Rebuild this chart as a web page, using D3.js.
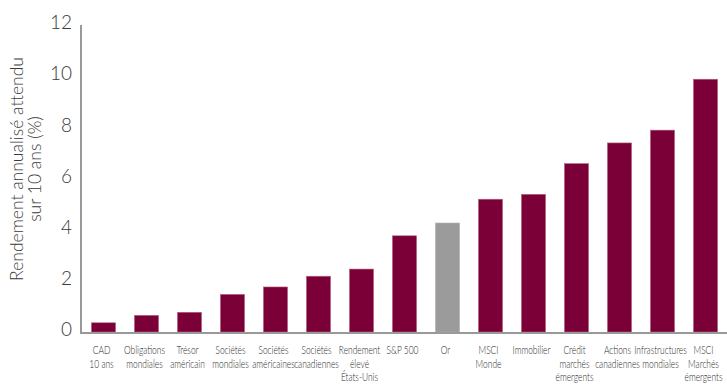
<!DOCTYPE html>
<html><head><meta charset="utf-8">
<script src="https://cdn.jsdelivr.net/npm/d3@7"></script>
<style>
html,body{margin:0;padding:0;background:#fff;}
svg{display:block;}
.tick text{font-family:Lato,"Open Sans",sans-serif;font-weight:300;}
</style>
</head><body>
<svg id="chart" width="727" height="387"></svg>
<script>
const categories = [
  ["CAD","10 ans"],
  ["Obligations","mondiales"],
  ["Trésor","américain"],
  ["Sociétés","mondiales"],
  ["Sociétés","américaines"],
  ["Sociétés","canadiennes"],
  ["Rendement","élevé","États-Unis"],
  ["S&P 500"],
  ["Or"],
  ["MSCI","Monde"],
  ["Immobilier"],
  ["Crédit","marchés","émergents"],
  ["Actions","canadiennes"],
  ["Infrastructures","mondiales"],
  ["MSCI","Marchés","émergents"]
];
const values = [0.36, 0.65, 0.77, 1.47, 1.76, 2.18, 2.46, 3.76, 4.26, 5.19, 5.38, 6.58, 7.39, 7.89, 9.88];
const highlighted = ["Or"];
const yTicks = [0, 2, 4, 6, 8, 10, 12];
const yTitle = ["Rendement annualisé attendu", "sur 10 ans (%)"];

const svg = d3.select("#chart");
const keys = categories.map(c => c.join(" "));
const x = d3.scaleBand().domain(keys).range([82, 727]).paddingInner(0.44).paddingOuter(0.22);
const y = d3.scaleLinear().domain([0, 12]).range([332, 25]);

// bars
svg.append("g").selectAll("rect").data(values).join("rect")
  .attr("x", (d, i) => x(keys[i]))
  .attr("width", x.bandwidth())
  .attr("y", d => y(d))
  .attr("height", d => y(0) - y(d))
  .attr("fill", (d, i) => highlighted.includes(keys[i]) ? "#9b9b9b" : "#7b0038")
  .attr("stroke", (d, i) => highlighted.includes(keys[i]) ? "#b0b0b0" : "#b2637f")
  .attr("stroke-width", 0.6);

// y axis
const yAxis = d3.axisLeft(y).tickValues(yTicks).tickSize(0).tickPadding(9).tickFormat(d3.format("d"));
const gy = svg.append("g").attr("transform", "translate(81,0)").call(yAxis);
gy.select(".domain").remove();
gy.selectAll(".tick text").attr("font-size", 19).attr("fill", "#3a3a3a").attr("dy", "0.2em");

// axis lines
svg.append("line").attr("x1", 81).attr("x2", 81).attr("y1", 25).attr("y2", 333)
  .attr("stroke", "#999").attr("stroke-width", 2);
svg.append("line").attr("x1", 80).attr("x2", 727).attr("y1", 333).attr("y2", 333)
  .attr("stroke", "#999").attr("stroke-width", 2);

// x labels (condensed by horizontal scaling), one text per line
const xl = svg.append("g");
categories.forEach((lines, i) => {
  const cx = x(keys[i]) + x.bandwidth() / 2 - 2;
  lines.forEach((l, j) => {
    xl.append("text")
      .attr("transform", `translate(${cx},${354 + j * 13.5}) scale(0.7,1)`)
      .attr("text-anchor", "middle")
      .attr("font-family", "Lato,'Open Sans',sans-serif")
      .attr("font-weight", 300)
      .attr("font-size", 12)
      .attr("fill", "#2a2a2a")
      .text(l);
  });
});

// y title
const tt = svg.append("text")
  .attr("transform", "translate(0,169) rotate(-90)")
  .attr("text-anchor", "middle")
  .attr("font-family", "Lato,'Open Sans',sans-serif")
  .attr("font-weight", 300)
  .attr("font-size", 17.5)
  .attr("fill", "#3a3a3a");
yTitle.forEach((l, j) => {
  tt.append("tspan").attr("x", 0).attr("y", j === 0 ? 23 : 41).text(l);
});
</script>
</body></html>
